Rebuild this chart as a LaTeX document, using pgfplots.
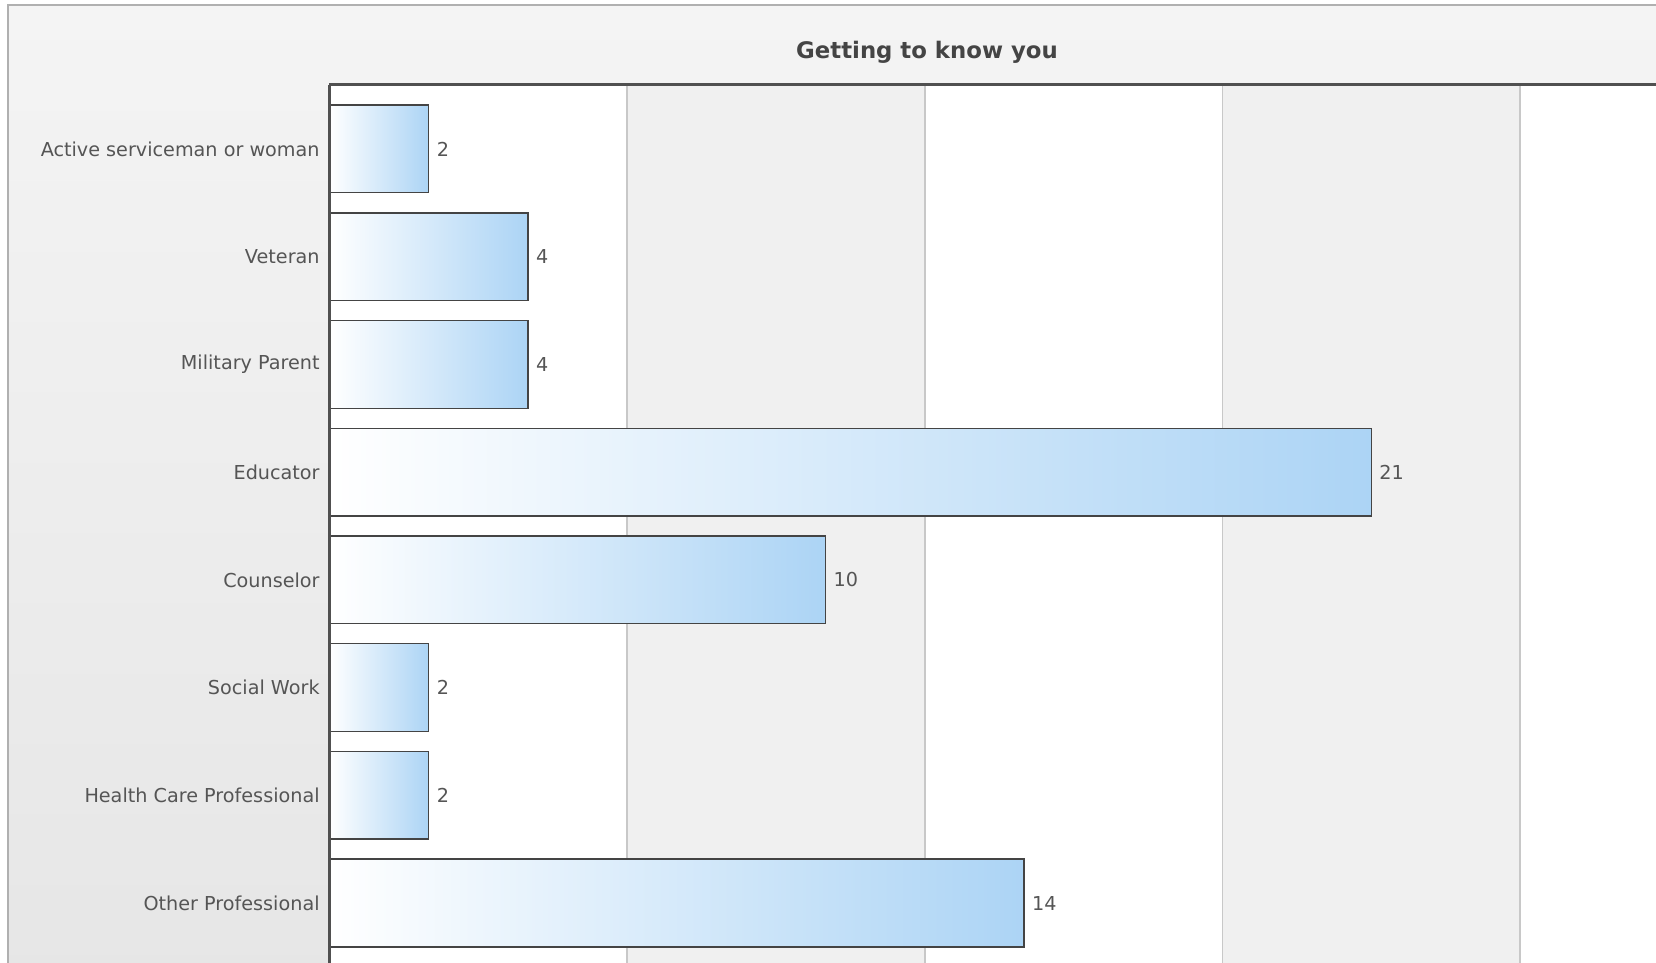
\documentclass[border=0pt]{standalone}
\usepackage{fontspec}
\setmainfont{DejaVu Sans}
\usepackage{pgfplots}
\pgfplotsset{compat=1.18}

\definecolor{framebg1}{RGB}{244,244,244}
\definecolor{framebg2}{RGB}{230,230,230}
\definecolor{framedraw}{RGB}{176,176,176}
\definecolor{axisgray}{RGB}{80,80,80}
\definecolor{bandgray}{RGB}{240,240,240}
\definecolor{gridgray}{RGB}{200,200,200}
\definecolor{barblue}{RGB}{172,212,245}
\definecolor{bardraw}{RGB}{68,68,68}
\definecolor{labelgray}{RGB}{85,85,85}
\definecolor{titlegray}{RGB}{68,68,68}

% one bar per plot, so each bar gets its own white-to-blue gradient
\pgfplotsset{
  onebar/.style={xbar, bar width=43.85pt, bar shift=0pt, draw=bardraw, line width=0.7pt,
    left color=white, right color=barblue, forget plot},
}

\begin{document}
\begin{tikzpicture}
% page = 1656 x 963 px at 0.5pt per px
\useasboundingbox (0pt,0pt) rectangle (828pt,-481.5pt);
\fill[white] (0pt,0pt) rectangle (828pt,-481.5pt);
\shade[top color=framebg1, bottom color=framebg2, draw=framedraw, line width=0.8pt]
  (4pt,-2.5pt) rectangle (840pt,-495pt);
\node[font=\bfseries\fontsize{11.4}{13}\selectfont, text=titlegray] at (463.5pt,-26.2pt) {Getting to know you};

\begin{axis}[
  at={(164.75pt,-42.25pt)}, anchor=north west,
  scale only axis,
  width=663.25pt, height=439.25pt,
  xmin=0, xmax=26.74,
  ymin=-0.598, ymax=7.557,
  y dir=reverse,
  axis background/.style={fill=white},
  axis on top,
  axis x line*=top, axis y line*=left,
  axis line style={color=axisgray, line width=1.5pt},
  xtick=\empty,
  ytick={0,1,2,3,4,5,6,7},
  yticklabels={Active serviceman or woman, Veteran, Military Parent, Educator, Counselor, Social Work, Health Care Professional, Other Professional},
  major tick length=0pt, minor tick length=0pt, minor tick num=0,
  tick style={draw=none}, minor tick style={draw=none},
  yticklabel style={font=\fontsize{9.6}{11}\selectfont, text=labelgray, inner sep=0pt, xshift=-4.75pt},
  /pgf/number format/assume math mode=true,
  point meta=x,
  nodes near coords,
  every node near coord/.style={anchor=west, inner sep=0pt, xshift=3.7pt, font=\fontsize{9.6}{11}\selectfont, text=labelgray},
  clip=false,
]
% alternating bands and grid lines
\fill[bandgray] (axis cs:6,-0.598) rectangle (axis cs:12,7.557);
\fill[bandgray] (axis cs:18,-0.598) rectangle (axis cs:24,7.557);
\foreach \g in {6,12,18,24} {
  \edef\temp{\noexpand\draw[gridgray, line width=0.8pt] (axis cs:\g,-0.598) -- (axis cs:\g,7.557);}
  \temp
}

\addplot[onebar] coordinates {(2,0)};
\addplot[onebar] coordinates {(4,1)};
\addplot[onebar] coordinates {(4,2)};
\addplot[onebar] coordinates {(21,3)};
\addplot[onebar] coordinates {(10,4)};
\addplot[onebar] coordinates {(2,5)};
\addplot[onebar] coordinates {(2,6)};
\addplot[onebar] coordinates {(14,7)};
\end{axis}
\end{tikzpicture}
\end{document}
